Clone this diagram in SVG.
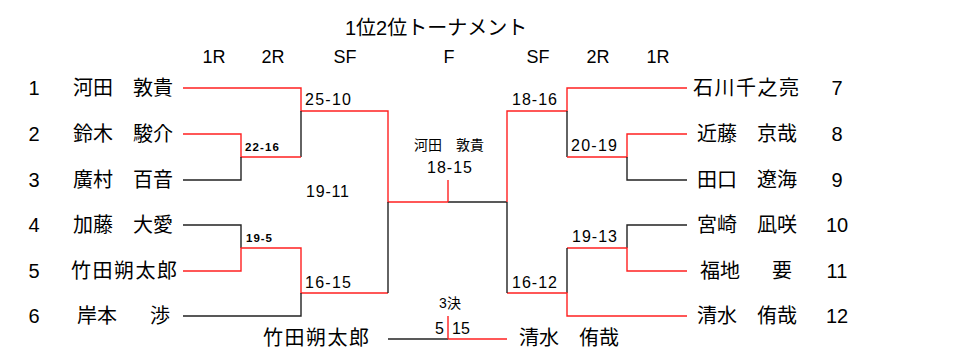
<svg xmlns="http://www.w3.org/2000/svg" width="974" height="350" viewBox="0 0 974 350">
<style>
  .t{font-family:"Liberation Sans","Noto Sans CJK JP",sans-serif;fill:#000}
  .jp{font-family:"Noto Sans CJK JP","Liberation Sans",sans-serif;fill:#000;font-size:20px}
  .num{font-family:"Liberation Sans","Noto Sans CJK JP",sans-serif;font-size:20px;text-anchor:middle;fill:#000}
  .hd{font-family:"Liberation Sans",sans-serif;font-size:18px;text-anchor:middle;fill:#000}
  .sc{font-family:"Liberation Sans",sans-serif;font-size:16px;fill:#000}
  .sb{font-family:"Liberation Sans",sans-serif;font-size:11.5px;font-weight:bold;fill:#000}
  .k{fill:none;stroke:#222;stroke-width:1.4}
  .r{fill:none;stroke:#ff2020;stroke-width:1.4}
</style>
<rect width="974" height="350" fill="#fff"/>
<g id="title">
  <text class="t" x="345" y="35" font-size="20">1位2位トーナメント</text>
</g>
<g id="headers">
  <text class="hd" x="214" y="63">1R</text>
  <text class="hd" x="273" y="63">2R</text>
  <text class="hd" x="345" y="63">SF</text>
  <text class="hd" x="449" y="63">F</text>
  <text class="hd" x="538" y="63">SF</text>
  <text class="hd" x="598" y="63">2R</text>
  <text class="hd" x="658" y="63">1R</text>
</g>
<g id="connectors">
  <path class="r" d="M183,88 H301 V111 H388 V202 H448"/>
  <path class="k" d="M301,111 V157"/>
  <path class="r" d="M183,134 H241 V157 H301"/>
  <path class="k" d="M183,180 H241 V157"/>
  <path class="k" d="M183,225 H241 V248"/>
  <path class="r" d="M183,271 H241 V248 H301 V293 H388"/>
  <path class="k" d="M183,316 H301 V293"/>
  <path class="k" d="M388,202 V293"/>
  <path class="k" d="M448,202 H507"/>
  <path class="r" d="M448,180 V202"/>
  <path class="r" d="M687,88 H567 V111 H507 V202"/>
  <path class="k" d="M567,111 V157"/>
  <path class="r" d="M687,134 H627 V157 H567"/>
  <path class="k" d="M687,180 H627 V157"/>
  <path class="k" d="M687,225 H627 V248"/>
  <path class="r" d="M687,271 H627 V248 H567"/>
  <path class="k" d="M567,248 V293"/>
  <path class="r" d="M687,316 H567 V293 H507"/>
  <path class="k" d="M507,202 V293"/>
  <path class="k" d="M388,339 H448"/>
  <path class="r" d="M448,339 H507"/>
  <path class="r" d="M448,316 V339"/>
</g>
<g id="scores">
  <text class="sc" x="305" y="105" textLength="46" lengthAdjust="spacing">25-10</text>
  <text class="sb" x="245" y="151" textLength="34" lengthAdjust="spacing">22-16</text>
  <text class="sc" x="306" y="197" textLength="43" lengthAdjust="spacing">19-11</text>
  <text class="sb" x="246" y="242" textLength="26" lengthAdjust="spacing">19-5</text>
  <text class="sc" x="305" y="288" textLength="46" lengthAdjust="spacing">16-15</text>
  <text class="sc" x="512" y="105" textLength="45" lengthAdjust="spacing">18-16</text>
  <text class="sc" x="571" y="151" textLength="46" lengthAdjust="spacing">20-19</text>
  <text class="sc" x="572" y="242" textLength="45" lengthAdjust="spacing">19-13</text>
  <text class="sc" x="512" y="288" textLength="45" lengthAdjust="spacing">16-12</text>
</g>
<g id="final">
  <text class="t" x="449" y="150" font-size="14" text-anchor="middle">河田　敦貴</text>
  <text class="sc" x="427" y="173" textLength="45" lengthAdjust="spacing">18-15</text>
</g>
<g id="third-place">
  <text class="t" x="450" y="308" font-size="14" text-anchor="middle">3決</text>
  <text class="sc" x="444" y="334" text-anchor="end">5</text>
  <text class="sc" x="452" y="334">15</text>
  <text class="jp" x="263" y="345" textLength="106" lengthAdjust="spacing">竹田朔太郎</text>
  <text class="jp" x="519" y="345">清水　侑哉</text>
</g>
<g id="p1"><text class="num" x="34" y="95">1</text><text class="jp" x="73" y="95">河田　敦貴</text></g>
<g id="p2"><text class="num" x="34" y="141">2</text><text class="jp" x="73" y="141">鈴木　駿介</text></g>
<g id="p3"><text class="num" x="34" y="187">3</text><text class="jp" x="73" y="187">廣村　百音</text></g>
<g id="p4"><text class="num" x="34" y="232">4</text><text class="jp" x="73" y="232">加藤　大愛</text></g>
<g id="p5"><text class="num" x="34" y="278">5</text><text class="jp" x="71" y="278" textLength="106" lengthAdjust="spacing">竹田朔太郎</text></g>
<g id="p6"><text class="num" x="34" y="323">6</text><text class="jp" x="77" y="323">岸本</text><text class="jp" x="150" y="323">渉</text></g>
<g id="p7"><text class="jp" x="693" y="95" textLength="106" lengthAdjust="spacing">石川千之亮</text><text class="num" x="837" y="95">7</text></g>
<g id="p8"><text class="jp" x="697" y="141">近藤　京哉</text><text class="num" x="837" y="141">8</text></g>
<g id="p9"><text class="jp" x="697" y="187">田口　遼海</text><text class="num" x="837" y="187">9</text></g>
<g id="p10"><text class="jp" x="697" y="232">宮崎　凪咲</text><text class="num" x="837" y="232">10</text></g>
<g id="p11"><text class="jp" x="700" y="278">福地</text><text class="jp" x="772" y="278">要</text><text class="num" x="837" y="278">11</text></g>
<g id="p12"><text class="jp" x="697" y="323">清水　侑哉</text><text class="num" x="837" y="323">12</text></g>
</svg>
